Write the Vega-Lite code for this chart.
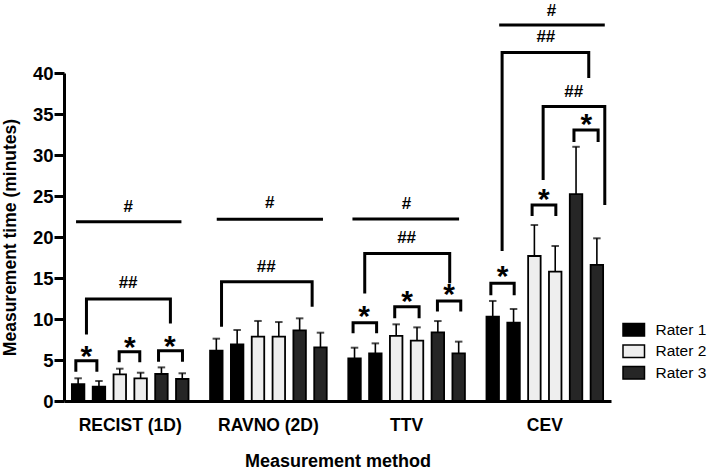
{
  "$schema": "https://vega.github.io/schema/vega-lite/v6.json",
  "width": 547,
  "height": 328,
  "autosize": "none",
  "padding": {"left": 64, "top": 73, "right": 98, "bottom": 69},
  "config": {
    "view": {"stroke": null},
    "font": "Liberation Sans",
    "axis": {"grid": false, "domainColor": "black", "tickColor": "black", "labelColor": "black", "titleColor": "black", "labelFont": "Liberation Sans", "titleFont": "Liberation Sans"},
    "axisX": {"domainWidth": 3, "ticks": false, "labelAngle": 0, "labelFontSize": 17.5, "labelFontWeight": "bold", "labelPadding": 15, "titleFontSize": 18, "titleFontWeight": "bold", "titlePadding": 19},
    "axisY": {"domainWidth": 3, "tickWidth": 3, "tickSize": 10, "tickCount": 8, "labelFontSize": 18.5, "labelFontWeight": "bold", "labelPadding": 1, "titleFontSize": 17.5, "titleFontWeight": "bold", "titlePadding": 13}
  },
  "datasets": {
    "bars": [
      {"method": "RECIST (1D)", "rater": "Rater 1", "slot": "1-1", "mean": 2.07, "upper": 2.77},
      {"method": "RECIST (1D)", "rater": "Rater 1", "slot": "1-2", "mean": 1.75, "upper": 2.44},
      {"method": "RECIST (1D)", "rater": "Rater 2", "slot": "2-1", "mean": 3.25, "upper": 3.94},
      {"method": "RECIST (1D)", "rater": "Rater 2", "slot": "2-2", "mean": 2.77, "upper": 3.45},
      {"method": "RECIST (1D)", "rater": "Rater 3", "slot": "3-1", "mean": 3.29, "upper": 4.1},
      {"method": "RECIST (1D)", "rater": "Rater 3", "slot": "3-2", "mean": 2.68, "upper": 3.38},
      {"method": "RAVNO (2D)", "rater": "Rater 1", "slot": "1-1", "mean": 6.13, "upper": 7.6},
      {"method": "RAVNO (2D)", "rater": "Rater 1", "slot": "1-2", "mean": 6.9, "upper": 8.66},
      {"method": "RAVNO (2D)", "rater": "Rater 2", "slot": "2-1", "mean": 7.84, "upper": 9.76},
      {"method": "RAVNO (2D)", "rater": "Rater 2", "slot": "2-2", "mean": 7.84, "upper": 9.63},
      {"method": "RAVNO (2D)", "rater": "Rater 3", "slot": "3-1", "mean": 8.62, "upper": 10.08},
      {"method": "RAVNO (2D)", "rater": "Rater 3", "slot": "3-2", "mean": 6.55, "upper": 8.33},
      {"method": "TTV", "rater": "Rater 1", "slot": "1-1", "mean": 5.2, "upper": 6.5},
      {"method": "TTV", "rater": "Rater 1", "slot": "1-2", "mean": 5.82, "upper": 7.03},
      {"method": "TTV", "rater": "Rater 2", "slot": "2-1", "mean": 7.93, "upper": 9.35},
      {"method": "TTV", "rater": "Rater 2", "slot": "2-2", "mean": 7.36, "upper": 8.98},
      {"method": "TTV", "rater": "Rater 3", "slot": "3-1", "mean": 8.37, "upper": 9.75},
      {"method": "TTV", "rater": "Rater 3", "slot": "3-2", "mean": 5.82, "upper": 7.24},
      {"method": "CEV", "rater": "Rater 1", "slot": "1-1", "mean": 10.28, "upper": 12.2},
      {"method": "CEV", "rater": "Rater 1", "slot": "1-2", "mean": 9.55, "upper": 11.22},
      {"method": "CEV", "rater": "Rater 2", "slot": "2-1", "mean": 17.68, "upper": 21.46},
      {"method": "CEV", "rater": "Rater 2", "slot": "2-2", "mean": 15.77, "upper": 18.9},
      {"method": "CEV", "rater": "Rater 3", "slot": "3-1", "mean": 25.24, "upper": 31.0},
      {"method": "CEV", "rater": "Rater 3", "slot": "3-2", "mean": 16.6, "upper": 19.84}
    ],
    "lines": [
      {"method": "RECIST (1D)", "id": "a-h", "k": 1, "pos": -0.1, "v": 21.87},
      {"method": "RECIST (1D)", "id": "a-h", "k": 2, "pos": 4.96, "v": 21.87},
      {"method": "RECIST (1D)", "id": "a-b", "k": 1, "pos": 0.4, "v": 8.1},
      {"method": "RECIST (1D)", "id": "a-b", "k": 2, "pos": 0.4, "v": 12.45},
      {"method": "RECIST (1D)", "id": "a-b", "k": 3, "pos": 4.43, "v": 12.45},
      {"method": "RECIST (1D)", "id": "a-b", "k": 4, "pos": 4.43, "v": 9.45},
      {"method": "RECIST (1D)", "id": "a-s1", "k": 1, "pos": -0.11, "v": 3.57},
      {"method": "RECIST (1D)", "id": "a-s1", "k": 2, "pos": -0.11, "v": 4.91},
      {"method": "RECIST (1D)", "id": "a-s1", "k": 3, "pos": 0.9, "v": 4.91},
      {"method": "RECIST (1D)", "id": "a-s1", "k": 4, "pos": 0.9, "v": 3.57},
      {"method": "RECIST (1D)", "id": "a-s2", "k": 1, "pos": 1.97, "v": 4.72},
      {"method": "RECIST (1D)", "id": "a-s2", "k": 2, "pos": 1.97, "v": 6.02},
      {"method": "RECIST (1D)", "id": "a-s2", "k": 3, "pos": 2.96, "v": 6.02},
      {"method": "RECIST (1D)", "id": "a-s2", "k": 4, "pos": 2.96, "v": 4.72},
      {"method": "RECIST (1D)", "id": "a-s3", "k": 1, "pos": 3.86, "v": 4.8},
      {"method": "RECIST (1D)", "id": "a-s3", "k": 2, "pos": 3.86, "v": 6.14},
      {"method": "RECIST (1D)", "id": "a-s3", "k": 3, "pos": 5.01, "v": 6.14},
      {"method": "RECIST (1D)", "id": "a-s3", "k": 4, "pos": 5.01, "v": 4.8},
      {"method": "RAVNO (2D)", "id": "b-h", "k": 1, "pos": 0.02, "v": 22.16},
      {"method": "RAVNO (2D)", "id": "b-h", "k": 2, "pos": 5.12, "v": 22.16},
      {"method": "RAVNO (2D)", "id": "b-b", "k": 1, "pos": 0.25, "v": 9.06},
      {"method": "RAVNO (2D)", "id": "b-b", "k": 2, "pos": 0.25, "v": 14.55},
      {"method": "RAVNO (2D)", "id": "b-b", "k": 3, "pos": 4.6, "v": 14.55},
      {"method": "RAVNO (2D)", "id": "b-b", "k": 4, "pos": 4.6, "v": 11.5},
      {"method": "TTV", "id": "c-h", "k": 1, "pos": -0.1, "v": 22.2},
      {"method": "TTV", "id": "c-h", "k": 2, "pos": 5.02, "v": 22.2},
      {"method": "TTV", "id": "c-b", "k": 1, "pos": 0.49, "v": 13.1},
      {"method": "TTV", "id": "c-b", "k": 2, "pos": 0.49, "v": 18.0},
      {"method": "TTV", "id": "c-b", "k": 3, "pos": 4.57, "v": 18.0},
      {"method": "TTV", "id": "c-b", "k": 4, "pos": 4.57, "v": 14.35},
      {"method": "TTV", "id": "c-s1", "k": 1, "pos": -0.07, "v": 8.26},
      {"method": "TTV", "id": "c-s1", "k": 2, "pos": -0.07, "v": 9.55},
      {"method": "TTV", "id": "c-s1", "k": 3, "pos": 1.06, "v": 9.55},
      {"method": "TTV", "id": "c-s1", "k": 4, "pos": 1.06, "v": 8.26},
      {"method": "TTV", "id": "c-s2", "k": 1, "pos": 1.93, "v": 10.08},
      {"method": "TTV", "id": "c-s2", "k": 2, "pos": 1.93, "v": 11.5},
      {"method": "TTV", "id": "c-s2", "k": 3, "pos": 3.1, "v": 11.5},
      {"method": "TTV", "id": "c-s2", "k": 4, "pos": 3.1, "v": 10.08},
      {"method": "TTV", "id": "c-s3", "k": 1, "pos": 3.98, "v": 10.9},
      {"method": "TTV", "id": "c-s3", "k": 2, "pos": 3.98, "v": 12.2},
      {"method": "TTV", "id": "c-s3", "k": 3, "pos": 5.1, "v": 12.2},
      {"method": "TTV", "id": "c-s3", "k": 4, "pos": 5.1, "v": 10.9},
      {"method": "CEV", "id": "d-h", "k": 1, "pos": 0.31, "v": 45.85},
      {"method": "CEV", "id": "d-h", "k": 2, "pos": 5.38, "v": 45.85},
      {"method": "CEV", "id": "d-b1", "k": 1, "pos": 0.45, "v": 18.3},
      {"method": "CEV", "id": "d-b1", "k": 2, "pos": 0.45, "v": 42.5},
      {"method": "CEV", "id": "d-b1", "k": 3, "pos": 4.61, "v": 42.5},
      {"method": "CEV", "id": "d-b1", "k": 4, "pos": 4.61, "v": 39.4},
      {"method": "CEV", "id": "d-b2", "k": 1, "pos": 2.42, "v": 26.95},
      {"method": "CEV", "id": "d-b2", "k": 2, "pos": 2.42, "v": 35.9},
      {"method": "CEV", "id": "d-b2", "k": 3, "pos": 5.38, "v": 35.9},
      {"method": "CEV", "id": "d-b2", "k": 4, "pos": 5.38, "v": 23.9},
      {"method": "CEV", "id": "d-s1", "k": 1, "pos": -0.09, "v": 12.9},
      {"method": "CEV", "id": "d-s1", "k": 2, "pos": -0.09, "v": 14.35},
      {"method": "CEV", "id": "d-s1", "k": 3, "pos": 1.03, "v": 14.35},
      {"method": "CEV", "id": "d-s1", "k": 4, "pos": 1.03, "v": 12.9},
      {"method": "CEV", "id": "d-s2", "k": 1, "pos": 1.89, "v": 22.56},
      {"method": "CEV", "id": "d-s2", "k": 2, "pos": 1.89, "v": 23.9},
      {"method": "CEV", "id": "d-s2", "k": 3, "pos": 3.03, "v": 23.9},
      {"method": "CEV", "id": "d-s2", "k": 4, "pos": 3.03, "v": 22.56},
      {"method": "CEV", "id": "d-s3", "k": 1, "pos": 3.9, "v": 31.6},
      {"method": "CEV", "id": "d-s3", "k": 2, "pos": 3.9, "v": 33.05},
      {"method": "CEV", "id": "d-s3", "k": 3, "pos": 5.06, "v": 33.05},
      {"method": "CEV", "id": "d-s3", "k": 4, "pos": 5.06, "v": 31.6}
    ],
    "texts": [
      {"method": "RECIST (1D)", "label": "#", "pos": 2.4, "v": 23.7},
      {"method": "RECIST (1D)", "label": "##", "pos": 2.4, "v": 14.35},
      {"method": "RECIST (1D)", "label": "*", "pos": 0.4, "v": 6.4},
      {"method": "RECIST (1D)", "label": "*", "pos": 2.48, "v": 7.44},
      {"method": "RECIST (1D)", "label": "*", "pos": 4.4, "v": 7.6},
      {"method": "RAVNO (2D)", "label": "#", "pos": 2.57, "v": 24.15},
      {"method": "RAVNO (2D)", "label": "##", "pos": 2.4, "v": 16.35},
      {"method": "TTV", "label": "#", "pos": 2.5, "v": 24.0},
      {"method": "TTV", "label": "##", "pos": 2.5, "v": 19.84},
      {"method": "TTV", "label": "*", "pos": 0.46, "v": 11.18},
      {"method": "TTV", "label": "*", "pos": 2.52, "v": 13.05},
      {"method": "TTV", "label": "*", "pos": 4.54, "v": 13.87},
      {"method": "CEV", "label": "#", "pos": 2.82, "v": 47.6},
      {"method": "CEV", "label": "##", "pos": 2.55, "v": 44.35},
      {"method": "CEV", "label": "##", "pos": 3.89, "v": 37.7},
      {"method": "CEV", "label": "*", "pos": 0.47, "v": 16.06},
      {"method": "CEV", "label": "*", "pos": 2.45, "v": 25.5},
      {"method": "CEV", "label": "*", "pos": 4.5, "v": 34.6}
    ]
  },
  "layer": [
    {
      "data": {"name": "bars"},
      "encoding": {
        "x": {"field": "method", "type": "nominal", "title": "Measurement method", "scale": {"domain": ["RECIST (1D)", "RAVNO (2D)", "TTV", "CEV"], "paddingInner": 0.156, "paddingOuter": 0.057}},
        "xOffset": {"field": "slot", "type": "nominal", "scale": {"domain": ["1-1", "1-2", "2-1", "2-2", "3-1", "3-2"], "paddingInner": 0.4, "paddingOuter": 0}}
      },
      "layer": [
        {
          "mark": {"type": "bar", "stroke": "black", "strokeWidth": 1.8},
          "encoding": {
            "y": {"field": "mean", "type": "quantitative", "title": "Measurement time (minutes)", "scale": {"domain": [0, 40], "nice": false}},
            "fill": {"field": "rater", "type": "nominal", "scale": {"domain": ["Rater 1", "Rater 2", "Rater 3"], "range": ["#000000", "#eeeeee", "#262626"]},
              "legend": {"orient": "none", "legendX": 562, "legendY": 249, "title": null, "symbolType": "M-1.7,-1H1.7V1H-1.7Z", "symbolSize": 160, "symbolStrokeColor": "black", "symbolStrokeWidth": 1.5, "symbolOpacity": 1, "labelFontSize": 15.5, "labelFont": "Liberation Sans", "labelColor": "black", "labelOffset": 14, "rowPadding": 1.5}}
          }
        },
        {
          "mark": {"type": "rule", "color": "black", "strokeWidth": 1.6},
          "encoding": {
            "y": {"field": "mean", "type": "quantitative", "title": "Measurement time (minutes)", "scale": {"domain": [0, 40], "nice": false}},
            "y2": {"field": "upper"}
          }
        },
        {
          "mark": {"type": "tick", "color": "black", "size": 7.5, "thickness": 2, "orient": "horizontal"},
          "encoding": {
            "y": {"field": "upper", "type": "quantitative", "title": "Measurement time (minutes)", "scale": {"domain": [0, 40], "nice": false}}
          }
        }
      ]
    },
    {
      "encoding": {
        "x": {"field": "method", "type": "nominal", "title": "Measurement method", "scale": {"domain": ["RECIST (1D)", "RAVNO (2D)", "TTV", "CEV"], "paddingInner": 0.156, "paddingOuter": 0.057}},
        "xOffset": {"field": "pos", "type": "quantitative", "scale": {"domain": [-0.3, 5.3], "nice": false, "zero": false}},
        "y": {"field": "v", "type": "quantitative", "title": "Measurement time (minutes)", "scale": {"domain": [0, 40], "nice": false}}
      },
      "layer": [
        {
          "data": {"name": "lines"},
          "mark": {"type": "line", "color": "black", "strokeWidth": 3, "strokeCap": "butt", "strokeJoin": "miter"},
          "encoding": {"detail": {"field": "id"}, "order": {"field": "k"}}
        },
        {
          "data": {"name": "texts"},
          "transform": [{"filter": "datum.label !== '*'"}],
          "mark": {"type": "text", "font": "Liberation Sans", "fontWeight": "bold", "fontSize": 17, "baseline": "middle", "align": "center", "color": "black"},
          "encoding": {"text": {"field": "label"}}
        },
        {
          "data": {"name": "texts"},
          "transform": [{"filter": "datum.label === '*'"}],
          "mark": {"type": "text", "font": "Liberation Sans", "fontWeight": "bold", "fontSize": 30, "baseline": "middle", "align": "center", "color": "black", "dy": 8},
          "encoding": {"text": {"field": "label"}}
        }
      ]
    }
  ],
  "resolve": {"scale": {"xOffset": "independent"}}
}
